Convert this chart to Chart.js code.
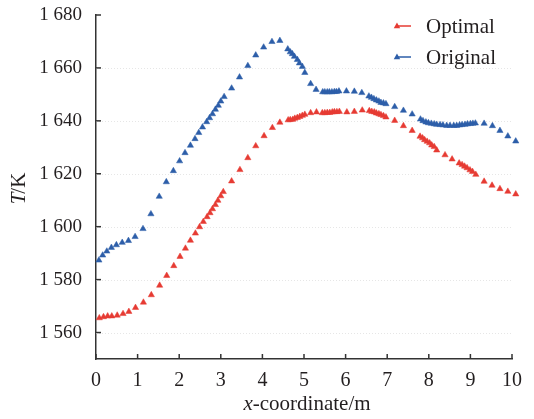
<!DOCTYPE html>
<html>
<head>
<meta charset="utf-8">
<script src="https://cdn.jsdelivr.net/npm/chart.js"></script>
<style>
  body { margin: 0; background: #fff; }
  canvas { display: block; }
</style>
</head>
<body>
<canvas id="chart" width="534" height="419"></canvas>
<script>
// data
const xOptimal = [0.08, 0.18, 0.28, 0.38, 0.51, 0.65, 0.79, 0.95, 1.14, 1.33, 1.53, 1.70, 1.87, 2.02, 2.15, 2.27,
  2.39, 2.49, 2.58, 2.67, 2.74, 2.80, 2.87, 2.93, 3.00, 3.06, 3.26, 3.46, 3.65, 3.84, 4.04, 4.24, 4.42,
  4.62, 4.67, 4.73, 4.78, 4.84, 4.90, 4.96, 5.02, 5.16, 5.30, 5.44, 5.50, 5.56, 5.62, 5.68, 5.73, 5.79,
  5.85, 6.03, 6.21, 6.40, 6.57, 6.63, 6.69, 6.74, 6.80, 6.85, 6.91, 6.97, 7.18, 7.39, 7.60, 7.79, 7.85,
  7.90, 7.96, 8.02, 8.07, 8.13, 8.19, 8.39, 8.56, 8.73, 8.80, 8.86, 8.92, 8.99, 9.05, 9.13, 9.33, 9.52,
  9.71, 9.90, 10.09];
const tOptimal = [1565.5, 1565.9, 1566.2, 1566.2, 1566.5, 1567.1, 1567.9, 1569.4, 1571.4, 1574.2, 1577.8, 1581.5,
  1585.2, 1588.7, 1591.8, 1594.8, 1597.5, 1599.9, 1601.9, 1603.7, 1605.2, 1606.7, 1608.3, 1609.9, 1611.6,
  1613.2, 1617.2, 1621.5, 1626.0, 1630.5, 1634.3, 1637.4, 1639.4, 1640.3, 1640.4, 1640.5, 1640.9, 1641.2,
  1641.6, 1642.0, 1642.4, 1643.0, 1643.3, 1643.0, 1643.0, 1643.1, 1643.1, 1643.3, 1643.4, 1643.4, 1643.5,
  1643.3, 1643.5, 1644.0, 1643.8, 1643.5, 1643.3, 1642.9, 1642.6, 1642.3, 1641.9, 1641.4, 1640.1, 1638.1,
  1636.3, 1634.1, 1633.5, 1632.8, 1632.2, 1631.6, 1630.8, 1630.2, 1628.9, 1627.1, 1625.5, 1624.0, 1623.4,
  1622.8, 1622.2, 1621.4, 1620.8, 1619.7, 1617.1, 1615.6, 1614.3, 1613.3, 1612.3];

const xOriginal = [0.07, 0.16, 0.26, 0.37, 0.49, 0.63, 0.78, 0.94, 1.13, 1.32, 1.52, 1.69, 1.86, 2.01, 2.14, 2.27,
  2.38, 2.47, 2.56, 2.66, 2.73, 2.80, 2.87, 2.94, 3.00, 3.08, 3.26, 3.45, 3.65, 3.84, 4.03, 4.23, 4.42,
  4.61, 4.67, 4.72, 4.77, 4.84, 4.89, 4.96, 5.02, 5.16, 5.29, 5.45, 5.50, 5.56, 5.61, 5.67, 5.73, 5.78,
  5.84, 6.02, 6.21, 6.39, 6.56, 6.62, 6.68, 6.74, 6.80, 6.85, 6.91, 6.97, 7.18, 7.39, 7.60, 7.80, 7.86,
  7.93, 7.99, 8.06, 8.13, 8.19, 8.27, 8.34, 8.43, 8.51, 8.60, 8.67, 8.74, 8.80, 8.87, 8.93, 9.00, 9.06,
  9.12, 9.33, 9.53, 9.71, 9.90, 10.09];
const tOriginal = [1587.3, 1589.2, 1590.7, 1592.1, 1593.1, 1594.0, 1594.7, 1596.2, 1599.2, 1604.8, 1611.4, 1616.9,
  1621.1, 1624.8, 1627.9, 1630.7, 1633.2, 1635.5, 1637.6, 1639.6, 1641.1, 1642.6, 1644.3, 1645.8, 1647.4,
  1649.1, 1652.3, 1656.5, 1660.8, 1664.8, 1667.8, 1669.9, 1670.3, 1667.1, 1666.0, 1665.3, 1664.3, 1663.1,
  1661.8, 1660.5, 1658.2, 1654.0, 1651.8, 1650.9, 1650.9, 1650.9, 1650.9, 1650.9, 1651.0, 1651.0, 1651.2,
  1651.2, 1651.1, 1650.6, 1649.3, 1648.8, 1648.3, 1647.8, 1647.4, 1646.9, 1646.7, 1646.4, 1645.3, 1643.9,
  1642.5, 1640.6, 1640.0, 1639.5, 1639.2, 1639.0, 1638.8, 1638.6, 1638.5, 1638.4, 1638.2, 1638.2, 1638.2,
  1638.2, 1638.4, 1638.5, 1638.6, 1638.8, 1638.9, 1639.0, 1639.1, 1639.0, 1638.1, 1636.3, 1634.2, 1632.3];

const xTicks = [0, 1, 2, 3, 4, 5, 6, 7, 8, 9, 10];
const yTicks = [1560, 1580, 1600, 1620, 1640, 1660, 1680];
const seriesNames = ['Optimal', 'Original'];

const RED = '#e63b33';
const BLUE = '#2d5ea9';
const SERIF = '"Liberation Serif", "DejaVu Serif", serif';
const INK = '#231f20';

function toPoints(xs, ys) {
  return xs.map((x, i) => ({ x: x, y: ys[i] }));
}

function drawTriangle(ctx, x, y, r, color) {
  ctx.beginPath();
  ctx.moveTo(x, y - r);
  ctx.lineTo(x + r * 0.9, y + r * 0.6);
  ctx.lineTo(x - r * 0.9, y + r * 0.6);
  ctx.closePath();
  ctx.fillStyle = color;
  ctx.fill();
}

// faint dotted grid, inward ticks, titles with italic symbols, legend
const decor = {
  id: 'decor',
  beforeDatasetsDraw(chart) {
    const ctx = chart.ctx;
    const area = chart.chartArea;
    const ys = chart.scales.y;
    ctx.save();
    ctx.strokeStyle = '#e6e6e6';
    ctx.lineWidth = 1;
    ctx.setLineDash([1, 2]);
    yTicks.forEach(v => {
      if (v >= 1680) return;
      const py = Math.round(ys.getPixelForValue(v)) + 0.5;
      ctx.beginPath();
      ctx.moveTo(area.left, py);
      ctx.lineTo(area.right, py);
      ctx.stroke();
    });
    ctx.restore();
  },
  afterDraw(chart) {
    const ctx = chart.ctx;
    const area = chart.chartArea;
    const xs = chart.scales.x;
    const ys = chart.scales.y;
    ctx.save();

    ctx.strokeStyle = '#333';
    ctx.lineWidth = 1.5;
    yTicks.forEach(v => {
      const py = ys.getPixelForValue(v);
      ctx.beginPath();
      ctx.moveTo(area.left, py);
      ctx.lineTo(area.left + 5, py);
      ctx.stroke();
    });
    xTicks.forEach(v => {
      const px = xs.getPixelForValue(v);
      ctx.beginPath();
      ctx.moveTo(px, area.bottom);
      ctx.lineTo(px, area.bottom - 5);
      ctx.stroke();
    });

    // axis titles
    ctx.fillStyle = INK;
    ctx.textBaseline = 'middle';
    ctx.textAlign = 'left';
    const italic = 'italic 21px ' + SERIF;
    const normal = '21px ' + SERIF;

    ctx.font = italic;
    const wx = ctx.measureText('x').width;
    ctx.font = normal;
    const wRest = ctx.measureText('-coordinate/m').width;
    let tx = (area.left + area.right) / 2 - (wx + wRest) / 2 + 3;
    ctx.font = italic;
    ctx.fillText('x', tx, 404);
    ctx.font = normal;
    ctx.fillText('-coordinate/m', tx + wx, 404);

    ctx.save();
    ctx.translate(19, 188);
    ctx.rotate(-Math.PI / 2);
    ctx.font = italic;
    const wT = ctx.measureText('T').width;
    ctx.font = normal;
    const wK = ctx.measureText('/K').width;
    const ty = -(wT + wK) / 2;
    ctx.font = italic;
    ctx.fillText('T', ty, 0);
    ctx.font = normal;
    ctx.fillText('/K', ty + wT - 1, 0);
    ctx.restore();

    // legend
    const rows = [26, 57];
    chart.data.datasets.forEach((ds, i) => {
      const ly = rows[i];
      ctx.strokeStyle = ds.borderColor;
      ctx.lineWidth = 1.5;
      ctx.beginPath();
      ctx.moveTo(397, ly);
      ctx.lineTo(411, ly);
      ctx.stroke();
      drawTriangle(ctx, 397, ly, 3.6, ds.backgroundColor);
      ctx.fillStyle = INK;
      ctx.font = '21px ' + SERIF;
      ctx.fillText(ds.label, 426, ly + 1);
    });

    ctx.restore();
  }
};

new Chart(document.getElementById('chart'), {
  type: 'scatter',
  data: {
    datasets: [
      {
        label: seriesNames[0],
        data: toPoints(xOptimal, tOptimal),
        pointStyle: 'triangle',
        pointRadius: 3.6,
        borderWidth: 0.5,
        borderColor: RED,
        backgroundColor: RED,
        showLine: false
      },
      {
        label: seriesNames[1],
        data: toPoints(xOriginal, tOriginal),
        pointStyle: 'triangle',
        pointRadius: 3.6,
        borderWidth: 0.5,
        borderColor: BLUE,
        backgroundColor: BLUE,
        showLine: false
      }
    ]
  },
  options: {
    responsive: false,
    animation: false,
    clip: false,
    layout: { padding: { top: 15, right: 22, left: 0, bottom: 0 } },
    plugins: {
      legend: { display: false },
      tooltip: { enabled: false }
    },
    scales: {
      x: {
        type: 'linear',
        min: 0,
        max: 10,
        afterFit: s => { s.height = 60; s.paddingLeft = 0; s.paddingRight = 0; },
        afterBuildTicks: s => { s.ticks = xTicks.map(v => ({ value: v })); },
        grid: { display: false, drawTicks: false },
        border: { display: true, color: '#333', width: 1.5 },
        ticks: { color: INK, padding: 10, font: { family: SERIF, size: 20 }, maxRotation: 0 }
      },
      y: {
        type: 'linear',
        min: 1550,
        max: 1680,
        afterFit: s => { s.width = 96; s.paddingTop = 0; s.paddingBottom = 0; },
        afterBuildTicks: s => { s.ticks = yTicks.map(v => ({ value: v })); },
        grid: { display: false, drawTicks: false },
        border: { display: true, color: '#333', width: 1.5 },
        ticks: {
          color: INK,
          padding: 14,
          font: { family: SERIF, size: 19 },
          callback: v => String(v).replace(/^(\d)(\d{3})$/, '$1 $2')
        }
      }
    }
  },
  plugins: [decor]
});
</script>
</body>
</html>
